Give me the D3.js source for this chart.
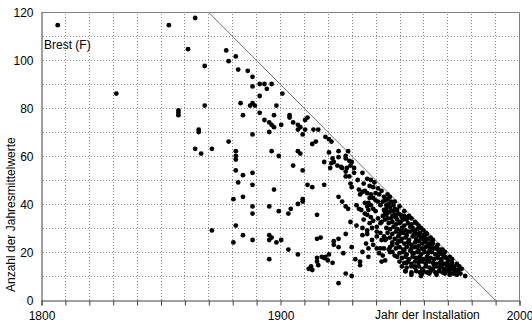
<!DOCTYPE html>
<html><head><meta charset="utf-8">
<script src="https://cdn.jsdelivr.net/npm/d3@7"></script>
<style>
html,body{margin:0;padding:0;background:#fff;}
text{font-family:"Liberation Sans",Arial,sans-serif;font-size:12px;fill:#000;}
</style></head>
<body><svg id="c" width="532" height="324"></svg>
<script>
// ---- data ----
const xTicks = [1800,1810,1820,1830,1840,1850,1860,1870,1880,1890,1900,1910,1920,1930,1940,1950,1960,1970,1980,1990,2000];
const xTickLabels = [1800,1900,2000];
const yTicks = [0,20,40,60,80,100,120];
const yGrid = [10,20,30,40,50,60,70,80,90,100,110];
const xTitle = "Jahr der Installation";
const yTitle = "Anzahl der Jahresmittelwerte";
const stationLabel = "Brest (F)";
const limitLine = [[1870,120],[1990,0]];

// installation year, number of annual means
const sparseStations = [
[1807,114.5],[1831.5,86],[1853.5,114.5],[1864.5,117.5],[1861.5,104.5],[1868.5,97.5],
[1857.5,79],[1857.5,78],[1857.5,77],[1868.5,81],[1866,71],[1866,70],[1864.5,63],[1867,61],[1871.5,63],
[1877.5,104],[1878.5,99.5],[1881.5,101.5],[1882.5,96],[1886.5,95.5],[1888.5,93],[1891.5,90],[1893.5,90],[1896.5,90],[1894.5,88],[1888.5,89],[1891.5,85],[1901,86],
[1883.5,82],[1887.5,81],[1888.5,82],[1889.5,81],[1898.5,81],[1884.5,77],[1891.5,78],[1893.5,75],[1895.5,74],[1897.5,77],[1896.5,73],[1897.5,72],[1900.5,73],[1895.5,70],[1888.5,69],[1878.5,66],
[1904,77],[1904,76],[1905.5,74],[1907.5,73],[1908.5,72],[1907.5,71],[1909.5,69],[1910.5,75],[1911.5,76],[1910.5,71],[1914,71],[1916,71],[1919,68],[1920.5,67],[1921.5,66],[1915,66],[1913.5,65],
[1881.5,62],[1881.5,60],[1881.5,58.5],[1896.5,62],[1899.5,60],[1907.5,62],[1908.5,61],[1924.5,62],[1927.5,60],[1928.5,62],
[1881.5,54],[1884.5,52],[1888.5,53],[1882.5,49],[1888.5,48],[1897.5,46],[1884.5,43],[1880.5,42],[1905.5,56],[1909.5,54],[1909.5,42],[1909.5,41],[1907.5,40],[1888.5,39],[1895.5,39],[1904.5,38],[1899.5,37],[1903.5,36],[1888.5,36],[1881.5,31],[1871.5,29],[1884.5,27],[1895.5,27],[1896.5,26],[1895.5,25],[1888.5,25],[1880.5,24],[1898.5,24],[1900.5,25],[1903.5,21],[1907.5,19],[1895.5,17]
];
const middleStations = [
[1920.5,61.5],[1918.5,57.5],[1922,59],[1922.5,57.5],[1921.5,57],[1924,56],[1925.5,55.5],[1926,55],[1924.5,59.5],[1927.5,59],[1929,58],[1930,57.5],[1929.5,56],[1931,55],[1928,55],[1927.5,53.5],[1921,55],[1931,53],[1927.5,51.5],[1929,51.5],[1934.5,53],[1936.5,50.5],[1938,50],[1911.5,48],[1913.5,47],[1918.5,48],[1929.5,48.5],[1930,47],[1933,46],[1934.5,45],[1935.5,45.5],[1936.5,44.5],[1933.5,44],[1939,47],[1940,44.5],[1938,44],[1941.5,44],[1943.5,43],[1924.5,43],[1926,41],[1928.5,38],[1927.5,39],[1932,39.5],[1933,38],[1935.5,40.5],[1937,40.5],[1938,39.5],[1936.5,39],[1940,41.5],[1942,39.5],[1944.5,39.5],
[1934,37.5],[1935.5,36],[1936.5,35.5],[1938,34.5],[1937,37.5],[1939,38],[1940,37],[1943.5,37.5],[1944.5,35.5],[1944,33.5],[1942.5,32.5],[1942,32],[1915.5,35.5],[1929.5,32.5],[1934.5,30],[1936.5,29],[1934.5,27],[1936.5,27.5],[1940.5,30.5],[1940.5,28.5],[1940.5,26.5],[1942,28],[1943.5,26.5],[1944.5,25.5],[1942.5,25],[1927.5,27.5],[1915.5,25.5],[1922.5,24.5],[1922.5,23],[1924.5,25.5],[1924.5,22],[1930,22],[1934.5,20],[1937,21.5],[1937,18],[1940.5,21.5],[1942,21.5],[1943.5,21.5],[1941.5,19.5],[1942.5,16],[1944,16.5],[1920.5,19],[1919,18],[1918.5,17.5],[1917.5,18],[1920,16.5],[1915.5,17.5],[1915.5,16],[1916,14.5],[1913,14],[1913.5,12.5],[1912,13],[1922,15.5],[1933.5,16],[1933.5,14.5],[1927.5,11],[1930,10],[1924.5,7],
[1932.5,50],[1935,48.5],[1937.5,47.5],[1939.5,49],[1941,46.5],[1942.5,45.5],[1939,42.5],[1937.5,42.5],[1941,41],[1943,41],[1935,33.5],[1937.5,32],[1939,33],[1941,34],[1938.5,30],[1932,31],[1938.5,25],[1936,23.5],[1939,23],[1945.5,21],[1943,18.5],[1931.5,17],[1926.5,19.5],[1917,26]
];
const denseStations = [
[1946.5,41],[1947.5,39.5],[1948,38],[1946.5,37],[1949.5,36],[1951,34.5],[1951.5,33.5],[1950.5,32.5],[1953,33.5],[1954.5,30.5],[1956,29],[1956.5,28],[1958,27],[1959.5,25.5],[1960.5,25],[1962,23.5],[1963.5,23],[1965,21.5],[1966,21],[1967.5,19.5],[1969,18],[1970.5,16.5],[1972,15.5],[1973,14],[1974.5,12.5],[1977.5,10],
[1945,44],[1946,43],[1948,41],[1950,39],[1952,37],[1954,35],[1955,34],[1957,32],[1958,31],[1960,29],[1961,28],[1963,26],[1964,25],[1966,23],[1968,21],[1969,20],[1971,18],[1972,17],[1974,15],[1975,14],[1976,13],
[1944.5,38],[1945.5,36.5],[1947,35],[1948.5,34.5],[1949,37.5],[1950.5,35.5],[1952,35],[1953.5,34.5],
[1945.5,40],[1946,38.5],[1947.5,37],[1948,35.5],[1949,33.5],[1944,41.5],[1945,42],[1946.5,34],[1944,36.5],[1943,35],[1945,34],
[1945.5,32],[1947,32.5],[1948.5,31.5],[1950,32],[1952,31],[1953.5,32],[1955,31.5],[1956.5,32.5],
[1944.5,30],[1946,29.5],[1947.5,30.5],[1949,29.5],[1951,30],[1952.5,29],[1955.5,30],[1957.5,29.5],[1959,30],
[1945,28],[1947,27.5],[1948.5,28.5],[1950,27.5],[1951.5,28],[1953,27],[1954.5,28.5],[1957,27.5],[1958.5,28],[1960,27],[1961.5,27.5],
[1946,26],[1948,25.5],[1949.5,26.5],[1951,25.5],[1952.5,26],[1954,25],[1955.5,26.5],[1957,25.5],[1958,24.5],[1960.5,26],[1962,25.5],[1963.5,24.5],
[1947,24],[1949,23.5],[1950.5,24.5],[1952,23.5],[1953.5,24],[1955,23],[1956.5,24],[1958,22.5],[1959.5,23.5],[1961,24],[1962.5,22.5],[1964,23.5],
[1946,22],[1948.5,21.5],[1950,22],[1951.5,21],[1953,22],[1955,21.5],[1956.5,22],[1958,20.5],[1959.5,21.5],[1961,22],[1962.5,20.5],[1964,21.5],[1965.5,22],[1967,21],
[1947,20],[1950,19.5],[1951.5,20],[1953,19],[1954.5,20.5],[1956,19.5],[1957.5,20],[1959,19],[1960.5,20],[1962,19.5],[1963.5,20],[1965,19],[1966.5,19.5],[1968,19],
[1949,18],[1951,17.5],[1952.5,18],[1954,17],[1955.5,18],[1957,17.5],[1958.5,18],[1960,17],[1961.5,18],[1963,17.5],[1964.5,17],[1966,17.5],[1967.5,17],[1969.5,17.5],
[1950,16],[1952,15.5],[1953.5,16],[1955,15],[1956.5,16],[1958,15.5],[1959.5,16],[1961,15],[1962.5,16],[1964,15.5],[1965.5,15],[1967,15.5],[1968.5,15],[1970,15.5],[1971.5,14.5],
[1951,14],[1953,13.5],[1955,14],[1956.5,13.5],[1958,14],[1959.5,13],[1961,14],[1962.5,13.5],[1964,13],[1965.5,14],[1967,13.5],[1968.5,13],[1970,13.5],[1971.5,13],[1973,12.5],
[1952.5,12],[1955,11.5],[1957,12],[1958.5,11.5],[1960,12],[1961.5,11.5],[1963,12],[1965,11.5],[1966.5,12],[1968,11.5],[1969.5,12],[1971,11.5],[1972.5,11],[1974,11.5],[1975.5,11],
[1955,10.5],[1959,10],[1962.5,11],[1965.5,10.5],[1969,11],[1971,10.5],[1974,10.5],
[1944,25],[1947,23],[1946,20],[1948,18.5],[1953,15.5],[1956.5,14],[1959.5,11],[1952.5,12],[1967,19.5],[1968.5,18.5],[1967.5,16.5],[1969,15],[1970.5,14.5],[1972,13],[1973,12.5],[1974.5,12],[1967.5,14],[1969,12.5],
[1953.5,28.5],[1956,27],[1959,26],[1950.5,29],[1954,23.5],[1957.5,22],[1960,21],[1963,21.5],[1966,18.5],[1949.5,24.5],[1952,20.5],[1955.5,19.5],[1958.5,16.5],[1961.5,16.5],[1964.5,14.5],[1970.5,12]
];

// ---- chart ----
const svg = d3.select("#c");
const x = d3.scaleLinear().domain([1800,2000]).range([41,519]);
const y = d3.scaleLinear().domain([0,120]).range([300,12]);

// grid: dotted lines built from 1px dots along each grid line
const gridG = svg.append("g").attr("shape-rendering","crispEdges").attr("fill","#8a8a8a");
const vDots = d3.range(y(120)+2, y(0), 3);
const hDots = d3.range(x(1800)+2, x(2000), 3);
xTicks.filter(d=>d>1800&&d<2000).forEach(d=>{
  gridG.append("g").selectAll("rect").data(vDots).join("rect")
    .attr("x",x(d)).attr("y",v=>v).attr("width",1).attr("height",1);
});
yGrid.forEach(d=>{
  gridG.append("g").selectAll("rect").data(hDots).join("rect")
    .attr("x",h=>h).attr("y",y(d)).attr("width",1).attr("height",1);
});

// top/right border
svg.append("path").attr("d",`M${x(1800)},${y(120)+0.5}H${x(2000)+0.5}V${y(0)}`)
  .attr("fill","none").attr("stroke","#808080");

// limit diagonal
svg.append("line").attr("x1",x(limitLine[0][0])).attr("y1",y(limitLine[0][1]))
  .attr("x2",x(limitLine[1][0])).attr("y2",y(limitLine[1][1]))
  .attr("stroke","#707070").attr("stroke-width",1);

// x axis
const xAxis = d3.axisBottom(x).tickValues(xTicks).tickSize(5).tickPadding(6)
  .tickFormat(d=>xTickLabels.includes(d)?d:"");
const gx = svg.append("g").attr("transform","translate(0.5,300.5)").call(xAxis);
gx.select(".domain").attr("stroke","#404040");
gx.selectAll(".tick line").attr("stroke","#404040");
gx.selectAll("text").style("font-family","Liberation Sans, Arial, sans-serif").style("font-size","12px").attr("fill","#000");

// y axis
const yAxis = d3.axisLeft(y).tickValues(yTicks).tickSize(0).tickPadding(8);
const gy = svg.append("g").attr("transform","translate(41.5,0.5)").call(yAxis);
gy.select(".domain").attr("stroke","#404040");
gy.selectAll("text").style("font-family","Liberation Sans, Arial, sans-serif").style("font-size","12px").attr("fill","#000");

// points
const allPts = sparseStations.concat(middleStations, denseStations);
svg.append("g").selectAll("circle").data(allPts).join("circle")
  .attr("cx",d=>x(d[0])).attr("cy",d=>y(d[1])).attr("r",2.4).attr("fill","#000");

// labels
svg.append("text").attr("x",44).attr("y",49).text(stationLabel);
svg.append("text").attr("x",375).attr("y",319).text(xTitle);
svg.append("text").attr("transform","translate(15,292) rotate(-90)").attr("text-anchor","start").text(yTitle);
</script></body></html>
